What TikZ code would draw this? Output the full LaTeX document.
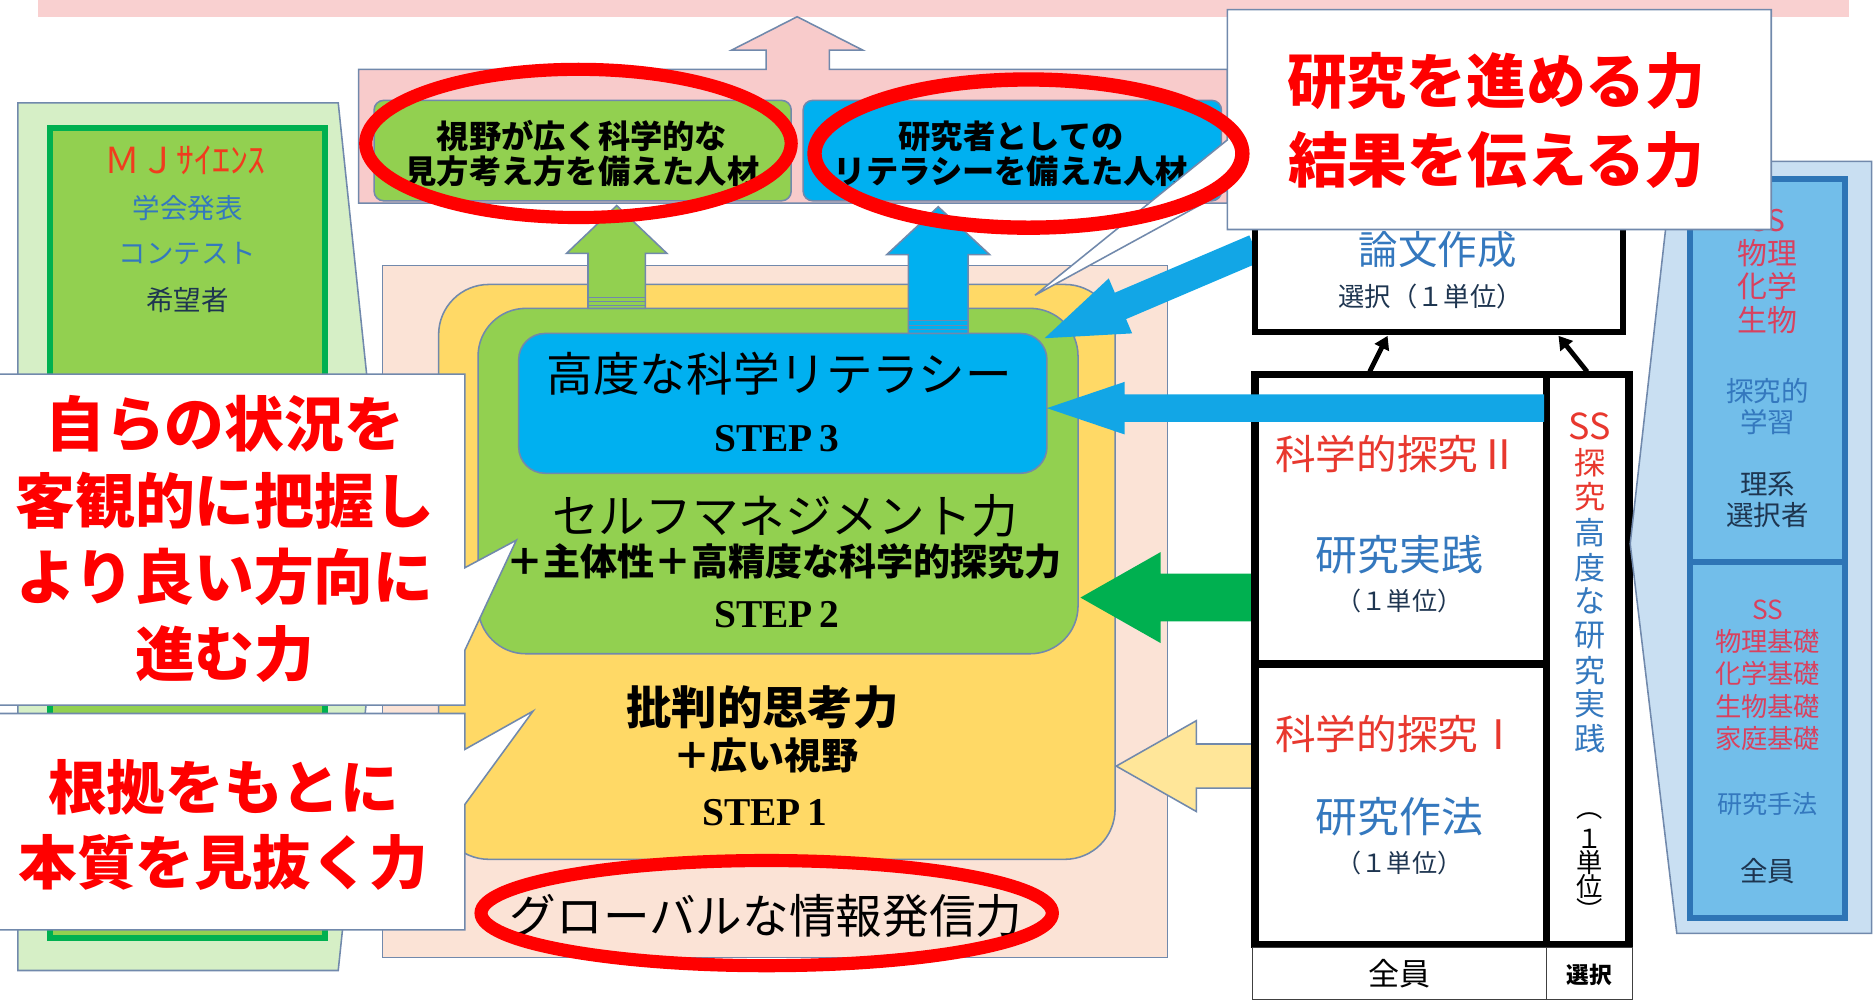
\documentclass[tikz,border=0pt]{standalone}
\usepackage{fontspec}
\usetikzlibrary{calc,arrows.meta}
\newfontfamily\jp{Noto Sans CJK JP}
\newfontfamily\stepf{Liberation Serif}
\definecolor{pinkband}{HTML}{F9D0D0}
\definecolor{pinkfill}{HTML}{F8CBCB}
\definecolor{outl}{HTML}{7189AC}
\definecolor{peach}{HTML}{FBE3D6}
\definecolor{yel}{HTML}{FFD966}
\definecolor{grn}{HTML}{92D050}
\definecolor{cyanA}{HTML}{00B0F0}
\definecolor{dgrn}{HTML}{00B050}
\definecolor{lyel}{HTML}{FFE699}
\definecolor{lgrn}{HTML}{D6EFC6}
\definecolor{lblue}{HTML}{C9DFF2}
\definecolor{mblue}{HTML}{72BEEA}
\definecolor{bblue}{HTML}{2E75B6}
\definecolor{tblue}{HTML}{3478BE}
\definecolor{tred}{HTML}{E8382E}
\definecolor{pred}{HTML}{D9415E}
\definecolor{dtext}{HTML}{1E3550}
\definecolor{arrblue}{HTML}{12A6E6}
\definecolor{mjred}{HTML}{F03C1E}
\newcommand\jfs[2]{\fontsize{#1}{#2}\selectfont}
% block arrow: style, tail, tip, shaft half width, head half width, head length
\newcommand\blockarr[6]{%
  \coordinate (bah) at ($(#3)!#6!(#2)$);
  \path[#1] ($(#2)!#4!90:(#3)$) -- ($(bah)!#4!-90:(#2)$) -- ($(bah)!#5!-90:(#2)$) -- (#3)
    -- ($(bah)!#5!90:(#2)$) -- ($(bah)!#4!90:(#2)$) -- ($(#2)!#4!-90:(#3)$) -- cycle;
}
\begin{document}
\begin{tikzpicture}[x=1pt,y=-1pt,
  lbl/.style={inner sep=0pt,outer sep=0pt,font=\jp,align=center},
  olin/.style={draw=outl,line width=1.3pt},
  blkarr/.style={line width=4pt,-{Triangle[length=11pt,width=13pt]}}]
\useasboundingbox (0,0) rectangle (1568,838);
\clip (0,0) rectangle (1568,838);
\fill[white] (0,0) rectangle (1568,838);

% top band
\fill[pinkband] (32,-5) rectangle (1547,14.5);

% left panel
\filldraw[fill=lgrn, olin] (15,86) -- (283,86) -- (321,449) -- (283,812) -- (15,812) -- cycle;
\filldraw[fill=grn, draw=dgrn, line width=5pt] (42,107) rectangle (272,785);
\node[lbl,text=mjred,font=\jp\jfs{30}{30}] (mj) at (155,134) {ＭＪｻｲｴﾝｽ};
\node[lbl,text=tblue,font=\jp\jfs{23}{23}] (gakkai) at (157,174) {学会発表};
\node[lbl,text=tblue,font=\jp\jfs{23}{23}] (contest) at (157,212) {コンテスト};
\node[lbl,text=dtext,font=\jp\jfs{23}{23}] (kibou) at (157,251) {希望者};

% pink arrow shape
\filldraw[fill=pinkfill, olin] (300,170) -- (300,58) -- (641,58) -- (641,42) -- (612,42) -- (667,14)
  -- (722,42) -- (694,42) -- (694,58) -- (1027,58) -- (1027,170) -- cycle;

% top boxes
\filldraw[fill=grn, olin, rounded corners=8pt] (313,84) rectangle (662,168);
\filldraw[fill=cyanA, olin, rounded corners=8pt] (672,84) rectangle (1022,168);
\node[lbl,font=\jp\jfs{27}{29}\bfseries] (jinzai1) at (487,128.5) {視野が広く科学的な\\見方考え方を備えた人材};
\node[lbl,font=\jp\jfs{27}{29}\bfseries] (jinzai2) at (846,128.5) {研究者としての\\リテラシーを備えた人材};

% main area
\filldraw[fill=peach, olin] (320,222) rectangle (977,801);
\filldraw[fill=yel, olin, rounded corners=42pt] (367,238) rectangle (933,719);
\filldraw[fill=grn, olin, rounded corners=40pt] (400,258) rectangle (902,547);
\filldraw[fill=cyanA, olin, rounded corners=22pt] (434,279) rectangle (876,396);

% up arrows
\coordinate (gaT) at (516,258); \coordinate (gaH) at (516,172);
\blockarr{fill=grn, olin}{gaT}{gaH}{24pt}{42pt}{40pt}
\foreach \yy in {249,252.5,256} \draw[outl, line width=0.8pt] (492,\yy) -- (540,\yy);
\coordinate (baT) at (785,279); \coordinate (baH) at (785,173);
\blockarr{fill=cyanA, olin}{baT}{baH}{25pt}{43pt}{40pt}
\foreach \yy in {268,272,276} \draw[outl, line width=0.8pt] (760,\yy) -- (810,\yy);

% main texts
\node[lbl,font=\jp\jfs{39}{39}] (lit) at (652,313) {高度な科学リテラシー};
\node[lbl,font=\stepf\bfseries\jfs{33}{33}] (st3) at (650,367) {STEP\,3};
\node[lbl,font=\jp\jfs{39}{39}] (self) at (657,432) {セルフマネジメント力};
\node[lbl,font=\jp\jfs{31}{31}\bfseries] (plus1) at (656,470) {＋主体性＋高精度な科学的探究力};
\node[lbl,font=\stepf\bfseries\jfs{33}{33}] (st2) at (650,514) {STEP\,2};
\node[lbl,font=\jp\jfs{38}{38}\bfseries] (crit) at (638,592) {批判的思考力};
\node[lbl,font=\jp\jfs{31}{31}\bfseries] (plus2) at (641,632) {＋広い視野};
\node[lbl,font=\stepf\bfseries\jfs{33}{33}] (st1) at (640,680) {STEP\,1};
\node[lbl,font=\jp\jfs{39}{39}] (glob) at (641,766) {グローバルな情報発信力};

% arrows from right side (under boxes)
\coordinate (daT) at (1050,208); \coordinate (daH) at (874,283);
\blockarr{fill=arrblue}{daT}{daH}{12pt}{25pt}{69pt}
\coordinate (grT) at (1052,500); \coordinate (grH) at (904,500);
\blockarr{fill=dgrn}{grT}{grH}{20pt}{38pt}{67pt}
\coordinate (yeT) at (1052,641); \coordinate (yeH) at (934,641);
\blockarr{fill=lyel, olin}{yeT}{yeH}{18.5pt}{38pt}{67pt}

% ronbun box
\filldraw[fill=white, line width=5pt] (1050,180) rectangle (1358,278);
\node[lbl,text=tblue,font=\jp\jfs{33}{33}] (ronbun) at (1203,209) {論文作成};
\node[lbl,text=dtext,font=\jp\jfs{22}{22}] (sentaku1) at (1197,248) {選択（１単位）};

% grid
\filldraw[fill=white, line width=6pt] (1050,313) rectangle (1363,790);
\draw[line width=6pt] (1294,313) -- (1294,790);
\draw[line width=6pt] (1050,555.5) -- (1294,555.5);

% blue horizontal arrow over grid
\coordinate (bhT) at (1292,341.5); \coordinate (bhH) at (876,341.5);
\blockarr{fill=arrblue}{bhT}{bhH}{11.5pt}{22pt}{65pt}

\node[lbl,text=tred,font=\jp\jfs{34}{34}] (k2) at (1169,380) {科学的探究Ⅱ};
\node[lbl,text=tblue,font=\jp\jfs{35}{35}] (jj) at (1171,464) {研究実践};
\node[lbl,text=dtext,font=\jp\jfs{21}{21}] (u1) at (1171,503) {（１単位）};
\node[lbl,text=tred,font=\jp\jfs{34}{34}] (k1) at (1169,614) {科学的探究Ⅰ};
\node[lbl,text=tblue,font=\jp\jfs{35}{35}] (sh) at (1171,683) {研究作法};
\node[lbl,text=dtext,font=\jp\jfs{21}{21}] (u2) at (1171,722) {（１単位）};

% vertical text
\node[lbl,text=tred,font=\jp\jfs{30}{30}] (vSS) at (1330,357) {SS};
\foreach \ch/\yy [count=\k] in {探/387,究/416}
  \node[lbl,text=tred,font=\jp\jfs{26}{26}] (vr\k) at (1330,\yy) {\ch};
\foreach \ch/\yy [count=\k] in {高/446,度/475,な/503,研/532,究/561,実/589,践/618}
  \node[lbl,text=tblue,font=\jp\jfs{26}{26}] (vb\k) at (1330,\yy) {\ch};
\foreach \ch/\yy [count=\k] in {︵/683,１/702,単/722,位/742,︶/761}
  \node[lbl,font=\jp\jfs{22}{22}] (vk\k) at (1330,\yy) {\ch};

% bottom row
\draw[line width=1pt, draw=black!75] (1048,793) rectangle (1366,836);
\draw[line width=1pt, draw=black!75] (1294,793) -- (1294,836);
\node[lbl,font=\jp\jfs{26}{26}] (all) at (1171,815) {全員};
\node[lbl,font=\jp\jfs{19}{19}\bfseries] (sel) at (1330,816) {選択};

% black arrows to ronbun box
\coordinate (ga1) at (1146,311); \coordinate (ra1) at (1161,281);
\coordinate (ga2) at (1328,311); \coordinate (ra2) at (1304,281);
\draw[blkarr] (ga1) -- (ra1);
\draw[blkarr] (ga2) -- (ra2);

% right panel
\filldraw[fill=lblue, olin] (1400,135) -- (1566,135) -- (1566,781) -- (1403,781) -- (1364,455) -- cycle;
\filldraw[fill=mblue, draw=bblue, line width=5pt] (1414,150) rectangle (1544,768);
\draw[bblue, line width=5pt] (1414,470) -- (1544,470);
\node[lbl,text=pred,font=\jp\jfs{25}{28}] (rp1) at (1479,227) {SS\\物理\\化学\\生物};
\node[lbl,text=tblue,font=\jp\jfs{23}{26}] (rp2) at (1479,340) {探究的\\学習};
\node[lbl,text=dtext,font=\jp\jfs{23}{26}] (rp3) at (1479,418) {理系\\選択者};
\node[lbl,text=pred,font=\jp\jfs{22}{27}] (rp4) at (1479,565) {SS\\物理基礎\\化学基礎\\生物基礎\\家庭基礎};
\node[lbl,text=tblue,font=\jp\jfs{21}{21}] (rp5) at (1479,673) {研究手法};
\node[lbl,text=dtext,font=\jp\jfs{23}{23}] (rp6) at (1479,729) {全員};

% callouts
\filldraw[fill=white, olin] (-5,313) -- (389,313) -- (389,475) -- (432,452) -- (389,544) -- (389,590) -- (-5,590) -- cycle;
\node[lbl,text=red,font=\jp\jfs{50}{64}\bfseries] (c1) at (188,451) {自らの状況を\\客観的に把握し\\より良い方向に\\進む力};
\filldraw[fill=white, olin] (-5,597) -- (389,597) -- (389,627) -- (446,595) -- (389,673) -- (389,778) -- (-5,778) -- cycle;
\node[lbl,text=red,font=\jp\jfs{49}{63}\bfseries] (c2) at (187,690) {根拠をもとに\\本質を見抜く力};
\filldraw[fill=white, olin] (1027,8) -- (1482,8) -- (1482,192) -- (1027,192) -- (1027,159) -- (866,247) -- (1027,117) -- cycle;
\node[lbl,text=red,font=\jp\jfs{50}{66}\bfseries] (c3) at (1252,101) {研究を進める力\\結果を伝える力};

% red ellipses
\draw[red, line width=11pt] (484,120) ellipse [x radius=178pt, y radius=62pt];
\draw[red, line width=12pt] (860.5,128.5) ellipse [x radius=179pt, y radius=62pt];
\draw[red, line width=11pt] (641.5,764) ellipse [x radius=239pt, y radius=44pt];
\end{tikzpicture}
\end{document}
